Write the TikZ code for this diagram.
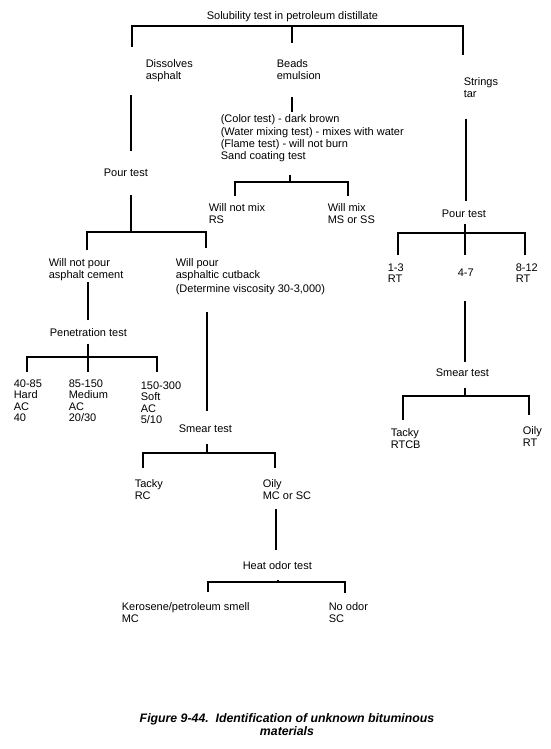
\documentclass[tikz,border=0pt]{standalone}
\usepackage{fontspec}
\setmainfont{Liberation Sans}
\usepackage{tikz}
\usetikzlibrary{positioning,calc}
\newcommand\lblfont{\fontsize{11}{11.5}\selectfont}
\tikzset{
  lbl/.style={anchor=north west, inner sep=0pt, align=left, font=\lblfont},
  branch/.style={line width=1.6pt},
  capt/.style={anchor=north, inner sep=0pt, align=center, font=\fontsize{12.3}{12.5}\selectfont\bfseries\itshape}
}

\begin{document}
\begin{tikzpicture}[x=1pt,y=-1pt,branch]
\useasboundingbox (0,0) rectangle (550,749);
% first level
\node[lbl] (solub) at (206,11) {Solubility test in petroleum distillate};
\node[lbl] (dissolves) at (145,59) {Dissolves\\asphalt};
\node[lbl] (beads) at (276,59) {Beads\\emulsion};
\node[lbl] (strings) at (463,77) {Strings\\tar};
% asphalt branch
\node[lbl] (pour1) at (103,168) {Pour test};
\node[lbl] (willnotpour) at (48,258) {Will not pour\\asphalt cement};
\node[lbl] (willpour) at (175,258) {Will pour\\asphaltic cutback};
\node[lbl] (viscosity) at (175,284) {(Determine viscosity 30-3,000)};
\node[lbl] (penetr) at (49,328) {Penetration test};
\node[lbl] (pen1) at (13,379) {40-85\\Hard\\AC\\40};
\node[lbl] (pen2) at (68,379) {85-150\\Medium\\AC\\20/30};
\node[lbl] (pen3) at (140,381) {150-300\\Soft\\AC\\5/10};
\node[lbl] (smear1) at (178,424) {Smear test};
\node[lbl] (tacky1) at (134,479) {Tacky\\RC};
\node[lbl] (oily1) at (262,479) {Oily\\MC or SC};
\node[lbl] (heatodor) at (242,561) {Heat odor test};
\node[lbl] (kerosene) at (121,602) {Kerosene/petroleum smell\\MC};
\node[lbl] (noodor) at (328,602) {No odor\\SC};
% emulsion branch
\node[lbl,font=\fontsize{11}{12.3}\selectfont] (colortest) at (220,114) {(Color test) - dark brown\\(Water mixing test) - mixes with water\\(Flame test) - will not burn\\Sand coating test};
\node[lbl] (willnotmix) at (208,203) {Will not mix\\RS};
\node[lbl] (willmix) at (327,203) {Will mix\\MS or SS};
% tar branch
\node[lbl] (pour2) at (441,209) {Pour test};
\node[lbl] (rt1) at (387,263) {1-3\\RT};
\node[lbl] (rt2) at (457,268) {4-7};
\node[lbl] (rt3) at (515,263) {8-12\\RT};
\node[lbl] (smear2) at (435,368) {Smear test};
\node[lbl] (tacky2) at (390,428) {Tacky\\RTCB};
\node[lbl] (oily2) at (522,426) {Oily\\RT};
% caption
\node[capt] (caption) at (287,713) {Figure 9-44.\ \ Identification of unknown bituminous\\materials};

% junctions
\coordinate (j0) at (292,26);
\coordinate (j1) at (131,232);
\coordinate (j2) at (88,357);
\coordinate (j3) at (207,453);
\coordinate (j4) at (278,582);
\coordinate (j5) at (290,182);
\coordinate (j6) at (465,233);
\coordinate (j7) at (465,396);

% solubility test
\draw ([xshift=-13pt,yshift=12pt]dissolves.north west) |- (j0) -| ([yshift=22pt]strings.north west);
\draw (j0) -- ([xshift=16pt,yshift=16pt]beads.north west);
% asphalt
\draw ([xshift=-14pt,yshift=-13pt]dissolves.south west) -- ([xshift=28pt,yshift=17pt]pour1.north west);
\draw ([xshift=28pt,yshift=-18pt]pour1.south west) -- (j1);
\draw ([xshift=39pt,yshift=8pt]willnotpour.north west) |- (j1) -| ([xshift=31pt,yshift=10pt]willpour.north west);
\draw ([xshift=40pt,yshift=-1pt]willnotpour.south west) -- ([xshift=39pt,yshift=8pt]penetr.north west);
\draw ([xshift=39pt,yshift=-6pt]penetr.south west) -- (j2);
\draw ([xshift=14pt,yshift=7pt]pen1.north west) |- (j2) -| ([xshift=17pt,yshift=9pt]pen3.north west);
\draw (j2) -- ([xshift=20pt,yshift=7pt]pen2.north west);
\draw ([xshift=32pt,yshift=-16pt]viscosity.south west) -- ([xshift=29pt,yshift=13pt]smear1.north west);
\draw ([xshift=29pt,yshift=-11pt]smear1.south west) -- (j3);
\draw ([xshift=9pt,yshift=11pt]tacky1.north west) |- (j3) -| ([xshift=13pt,yshift=11pt]oily1.north west);
\draw ([xshift=14pt,yshift=-8.5pt]oily1.south west) -- ([xshift=34pt,yshift=11pt]heatodor.north west);
\draw ([xshift=36pt,yshift=-9pt]heatodor.south west) -- (j4);
\draw ([xshift=87pt,yshift=10pt]kerosene.north west) |- (j4) -| ([xshift=17pt,yshift=9pt]noodor.north west);
% emulsion
\draw ([xshift=16pt,yshift=-16.5pt]beads.south west) -- ([xshift=72pt,yshift=2pt]colortest.north west);
\draw ([xshift=70pt,yshift=-12pt]colortest.south west) -- (j5);
\draw ([xshift=27pt,yshift=7pt]willnotmix.north west) |- (j5) -| ([xshift=21pt,yshift=7pt]willmix.north west);
% tar
\draw ([xshift=3pt,yshift=-20.5pt]strings.south west) -- ([xshift=25pt,yshift=8pt]pour2.north west);
\draw ([xshift=24pt,yshift=-6pt]pour2.south west) -- (j6);
\draw ([xshift=11pt,yshift=8pt]rt1.north west) |- (j6) -| ([xshift=10pt,yshift=8pt]rt3.north west);
\draw (j6) -- ([xshift=8pt,yshift=13pt]rt2.north west);
\draw ([xshift=8pt,yshift=-24pt]rt2.south west) -- ([xshift=30pt,yshift=6pt]smear2.north west);
\draw ([xshift=30pt,yshift=-11pt]smear2.south west) -- (j7);
\draw ([xshift=13pt,yshift=8pt]tacky2.north west) |- (j7) -| ([xshift=7pt,yshift=11pt]oily2.north west);
\end{tikzpicture}
\end{document}
